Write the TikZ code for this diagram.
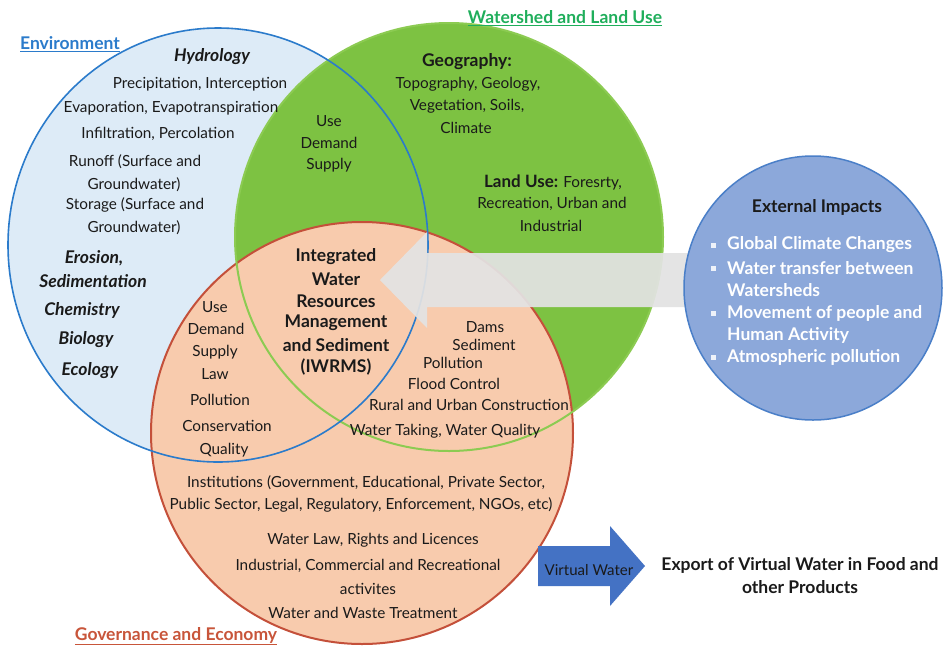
\documentclass[tikz,border=0pt]{standalone}
\usepackage{fontspec}
\setmainfont{Lato}
\definecolor{envline}{HTML}{2B7BCB}
\definecolor{envfill}{HTML}{DDEBF7}
\definecolor{grnfill}{HTML}{7DC242}
\definecolor{grnline}{HTML}{8CCB52}
\definecolor{grntitle}{HTML}{1FAE5B}
\definecolor{orgfill}{HTML}{F8CBAD}
\definecolor{orgline}{HTML}{C4503A}
\definecolor{orgtitle}{HTML}{C8553A}
\definecolor{arrgray}{HTML}{E3E3E3}
\definecolor{extfill}{HTML}{8CA8DA}
\definecolor{extline}{HTML}{4A7FC8}
\definecolor{vwfill}{HTML}{4472C4}
\definecolor{ink}{HTML}{1A1A1A}
\begin{document}
\begin{tikzpicture}[x=1pt,y=-1pt,
  txt/.style={font=\fontsize{15.3}{18}\selectfont, text=ink, inner sep=0pt, anchor=center},
  bi/.style={txt, font=\fontsize{17.5}{20}\selectfont\bfseries\itshape},
  bd/.style={txt, font=\fontsize{17.5}{20}\selectfont\bfseries},
  wb/.style={txt, font=\fontsize{17.5}{20}\selectfont\bfseries, text=white, anchor=west},
  ttl/.style={inner sep=0pt, anchor=center, font=\fontsize{17.5}{20}\selectfont\bfseries}]
\useasboundingbox (0,0) rectangle (943,649);
\fill[white] (0,0) rectangle (943,649);
% circles fills
\fill[envfill] (218,245) ellipse [x radius=210, y radius=217];
\fill[grnfill] (449,237) circle [radius=214];
\fill[orgfill] (362,433) circle [radius=211];
% outlines
\draw[orgline, line width=2pt] (362,433) circle [radius=211];
\draw[grnline, line width=2pt] (449,237) circle [radius=214];
\draw[envline, line width=1.6pt] (218,245) ellipse [x radius=210, y radius=217];
% gray arrow
\fill[arrgray, opacity=0.93] (690,253) -- (427,253) -- (427,232) -- (380,280) -- (427,328) -- (427,307) -- (690,307) -- cycle;
% external circle
\fill[extfill] (813,288) ellipse [x radius=129, y radius=132];
\draw[extline, line width=1.5pt] (813,288) ellipse [x radius=129, y radius=132];
% virtual water arrow
\fill[vwfill] (538,546) -- (610,546) -- (610,526) -- (645,566) -- (610,606) -- (610,586) -- (538,586) -- cycle;
% titles
\node[ttl, text=envline] (tenv) at (70,44) {\underline{Environment}};
\node[ttl, text=grntitle] (twat) at (565,18) {\underline{Watershed and Land Use}};
\node[ttl, text=orgtitle] (tgov) at (176,636) {\underline{Governance and Economy}};
% environment
\node[bi] (h1) at (212,57) {Hydrology};
\node[txt] (h2) at (200,84) {Precipitation, Interception};
\node[txt] (h3) at (171,108) {Evaporation, Evapotranspiration};
\node[txt] (h4) at (158,134) {Infiltration, Percolation};
\node[txt] (h5) at (135,162) {Runoff (Surface and};
\node[txt] (h6) at (134,185) {Groundwater)};
\node[txt] (h7) at (135,205) {Storage (Surface and};
\node[txt] (h8) at (134,228) {Groundwater)};
\node[bi] (e1) at (94,258) {Erosion,};
\node[bi] (e2) at (93,281) {Sedimentation};
\node[bi] (e3) at (82,310) {Chemistry};
\node[bi] (e4) at (86,340) {Biology};
\node[bi] (e5) at (90,371) {Ecology};
% blue-green
\node[txt] (bg1) at (329,121) {Use};
\node[txt] (bg2) at (329,143) {Demand};
\node[txt] (bg3) at (329,165) {Supply};
% green
\node[bd] (g1) at (467,62) {Geography:};
\node[txt] (g2) at (468,84) {Topography, Geology,};
\node[txt] (g3) at (467,106) {Vegetation, Soils,};
\node[txt] (g4) at (466,128) {Climate};
\node[txt] (g5) at (553,182) {{\fontsize{17}{20}\selectfont\bfseries Land Use:} Foresrty,};
\node[txt] (g6) at (552,204) {Recreation, Urban and};
\node[txt] (g7) at (551,226) {Industrial};
% centre
\node[bd] (c1) at (336,257) {Integrated};
\node[bd] (c2) at (336,279) {Water};
\node[bd] (c3) at (336,301) {Resources};
\node[bd] (c4) at (336,323) {Management};
\node[bd] (c5) at (336,345) {and Sediment};
\node[bd] (c6) at (336,367) {(IWRMS)};
% blue-orange
\node[txt] (bo1) at (215,307) {Use};
\node[txt] (bo2) at (216,329) {Demand};
\node[txt] (bo3) at (215,352) {Supply};
\node[txt] (bo4) at (215,374) {Law};
\node[txt] (bo5) at (220,400) {Pollution};
\node[txt] (bo6) at (227,426) {Conservation};
\node[txt] (bo7) at (224,450) {Quality};
% green-orange
\node[txt] (go1) at (485,327) {Dams};
\node[txt] (go2) at (484,345) {Sediment};
\node[txt] (go3) at (453,363) {Pollution};
\node[txt] (go4) at (454,384) {Flood Control};
\node[txt] (go5) at (469,405) {Rural and Urban Construction};
\node[txt] (go6) at (445,431) {Water Taking, Water Quality};
% orange
\node[txt] (o1) at (366,483) {Institutions (Government, Educational, Private Sector,};
\node[txt] (o2) at (361,505) {Public Sector, Legal, Regulatory, Enforcement, NGOs, etc)};
\node[txt] (o3) at (373,540) {Water Law, Rights and Licences};
\node[txt] (o4) at (368,566) {Industrial, Commercial and Recreational};
\node[txt] (o5) at (368,589) {activites};
\node[txt] (o6) at (363,613) {Water and Waste Treatment};
% external
\node[bd] (x0) at (817,207) {External Impacts};
\foreach \n/\y in {1/245,3/268,5/313,7/357}
  \node[fill=white!85!extfill, minimum size=5pt, inner sep=0pt] (xb\n) at (713,\y) {};
\node[wb] (x1) at (727,245) {Global Climate Changes};
\node[wb] (x2) at (727,268) {Water transfer between};
\node[wb] (x3) at (727,290) {Watersheds};
\node[wb] (x4) at (727,313) {Movement of people and};
\node[wb] (x5) at (727,335) {Human Activity};
\node[wb] (x6) at (727,357) {Atmospheric pollution};
% virtual water
\node[txt, font=\fontsize{15}{18}\selectfont] (vw) at (589,570) {Virtual Water};
\node[bd, font=\fontsize{17.5}{20}\selectfont\bfseries] (ex1) at (800,565) {Export of Virtual Water in Food and};
\node[bd, font=\fontsize{17.5}{20}\selectfont\bfseries] (ex2) at (800,587) {other Products};
\end{tikzpicture}
\end{document}
